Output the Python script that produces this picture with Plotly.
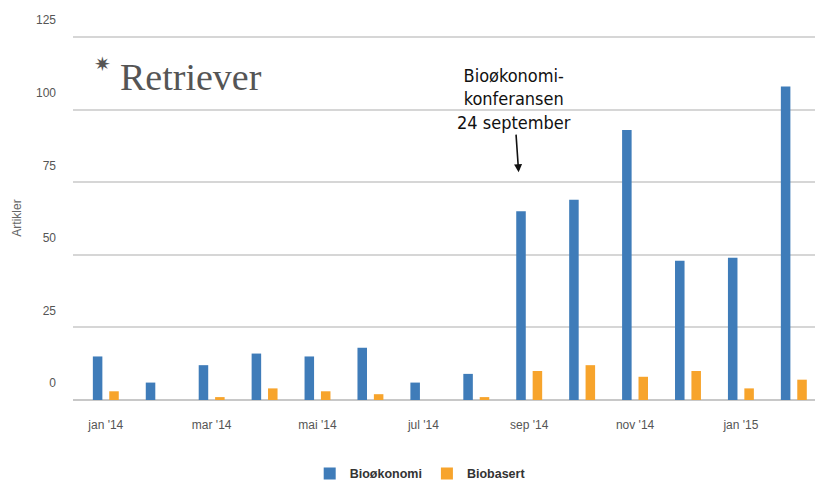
import plotly.graph_objects as go

months = ["jan '14", "feb '14", "mar '14", "apr '14", "mai '14", "jun '14", "jul '14",
          "aug '14", "sep '14", "okt '14", "nov '14", "des '14", "jan '15", "feb '15"]
bio_okonomi = [15, 6, 12, 16, 15, 18, 6, 9, 65, 69, 93, 48, 49, 108]
biobasert = [3, 0, 1, 4, 3, 2, 0, 1, 10, 12, 8, 10, 4, 7]
tick_months = ["jan '14", "mar '14", "mai '14", "jul '14", "sep '14", "nov '14", "jan '15"]
y_ticks = [0, 25, 50, 75, 100, 125]

BLUE = "#3f7cb9"
ORANGE = "#f7a42c"

fig = go.Figure()
fig.add_trace(go.Bar(x=months, y=bio_okonomi, name="Bioøkonomi",
                     marker=dict(color=BLUE, line=dict(width=0)),
                     width=0.18, offset=-0.245))
fig.add_trace(go.Bar(x=months, y=biobasert, name="Biobasert",
                     marker=dict(color=ORANGE, line=dict(width=0)),
                     width=0.18, offset=0.065))

fig.update_layout(
    width=819, height=483,
    margin=dict(l=73, r=4, t=36, b=83, autoexpand=False),
    paper_bgcolor="white", plot_bgcolor="white",
    barmode="group",
    font=dict(family="Liberation Sans, Arial, sans-serif", size=12, color="#555"),
    showlegend=True,
    legend=dict(orientation="h", x=0.319, xanchor="left", y=-0.203, yanchor="middle",
                font=dict(size=12.5, color="#333", family="Liberation Sans, Arial, sans-serif", weight="bold"),
                itemsizing="constant", traceorder="normal"),
    xaxis=dict(type="category", range=[-0.62, 13.4],
               tickmode="array", tickvals=tick_months, ticktext=tick_months,
               showgrid=False, showline=False, zeroline=False, ticks="",
               ticklabelstandoff=16,
               tickfont=dict(size=12, color="#555")),
    yaxis=dict(range=[0, 125.4], tickmode="array", tickvals=y_ticks,
               showgrid=True, gridcolor="#d6d6d6", gridwidth=1.5,
               zeroline=True, zerolinecolor="#c8c8c8", zerolinewidth=1.5,
               showline=False, ticks="", ticklabelshift=-17, ticklabelstandoff=16,
               tickfont=dict(size=12, color="#555")),
)
fig.update_yaxes(title=dict(text="Artikler", font=dict(size=12, color="#666"), standoff=11))

fig.add_annotation(
    x=7.8, y=78.5, xref="x", yref="y",
    text="Bioøkonomi-<br>konferansen<br>24 september",
    showarrow=True, arrowhead=2, arrowsize=1, arrowwidth=1.6, arrowcolor="#111",
    ax=-5, ay=-73,
    font=dict(family="Liberation Sans Narrow, Arial Narrow, DejaVu Sans Condensed, sans-serif",
              size=18, color="#111"),
    align="center",
)

# Retriever logo (as text)
fig.add_annotation(x=0.159, y=0.887, xref="paper", yref="paper",
                   xanchor="center", yanchor="middle",
                   text="Retriever", showarrow=False,
                   font=dict(family="Liberation Serif, DejaVu Serif, serif", size=38, color="#555"))
fig.add_annotation(x=0.040, y=0.923, xref="paper", yref="paper",
                   xanchor="center", yanchor="middle",
                   text="✷", showarrow=False,
                   font=dict(family="DejaVu Sans, sans-serif", size=20, color="#555"))

fig.write_html("out.html")
